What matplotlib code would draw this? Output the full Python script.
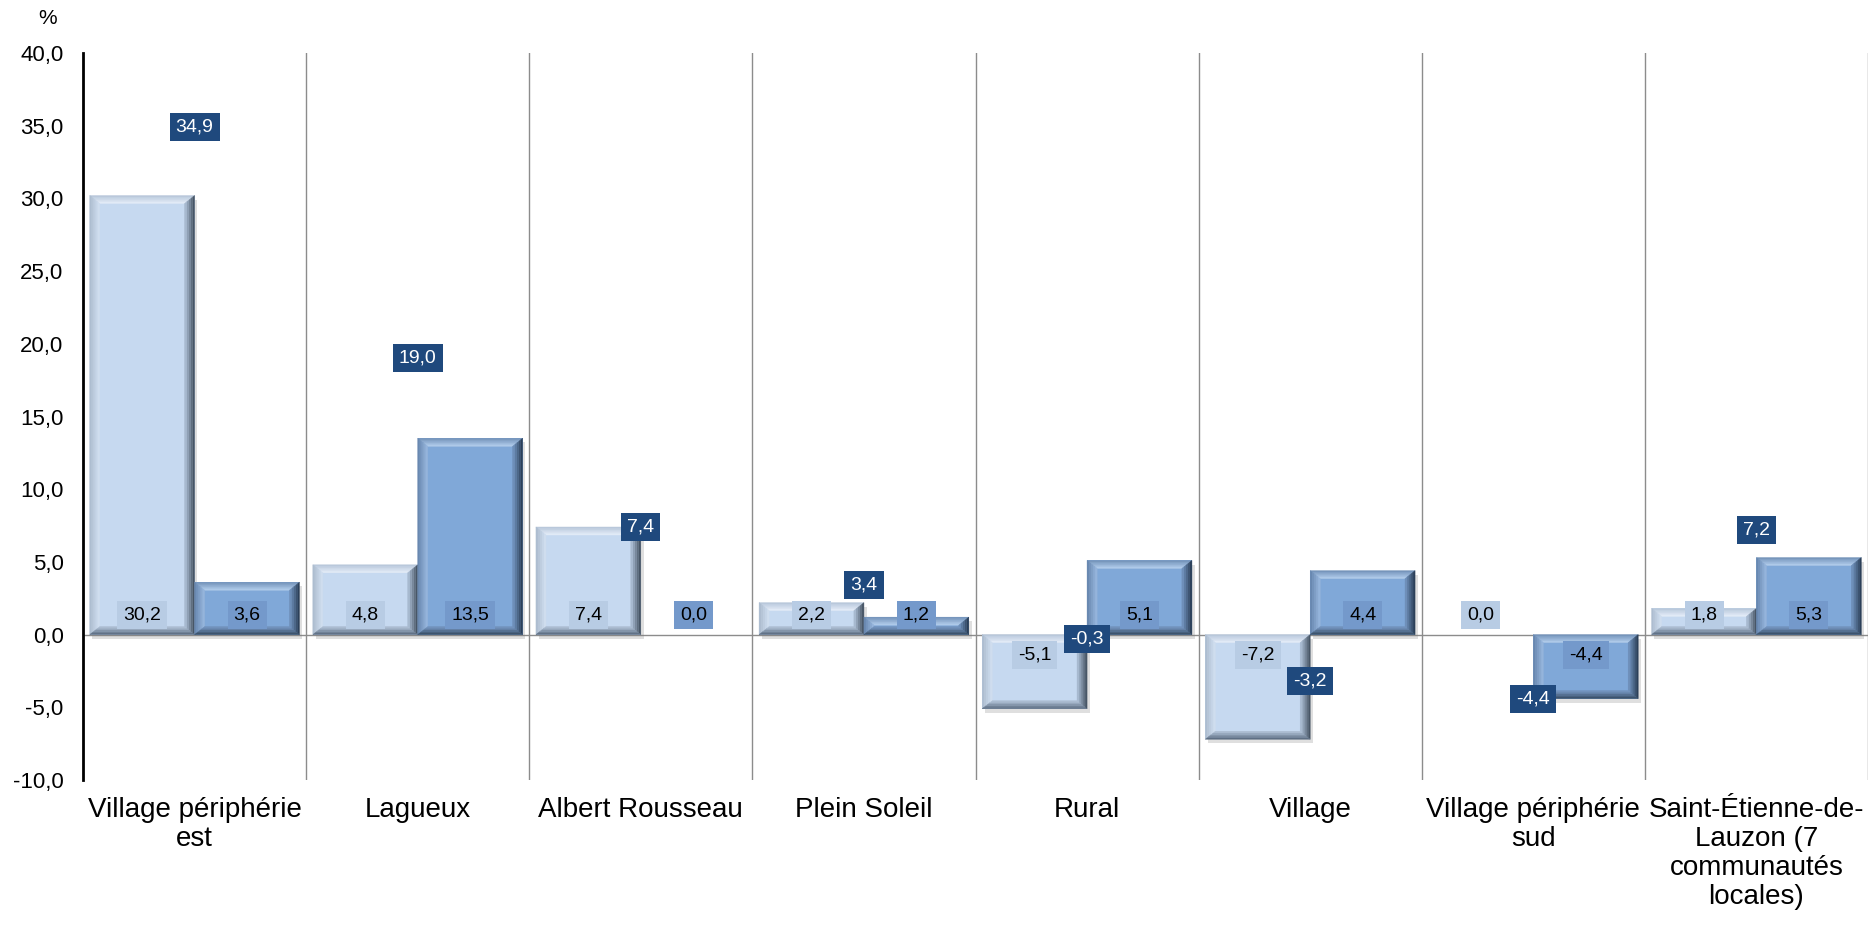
import matplotlib.pyplot as plt
from matplotlib.patches import Rectangle, Polygon
from matplotlib.colors import to_rgb
import matplotlib.patheffects as pe

categories = ["Village périphérie\nest", "Lagueux", "Albert Rousseau", "Plein Soleil",
              "Rural", "Village", "Village périphérie\nsud",
              "Saint-Étienne-de-\nLauzon (7\ncommunautés\nlocales)"]
serie1 = [30.2, 4.8, 7.4, 2.2, -5.1, -7.2, 0.0, 1.8]
serie2 = [3.6, 13.5, 0.0, 1.2, 5.1, 4.4, -4.4, 5.3]
serie3 = [34.9, 19.0, 7.4, 3.4, -0.3, -3.2, -4.4, 7.2]
yticks = [-10, -5, 0, 5, 10, 15, 20, 25, 30, 35, 40]

plt.rcParams['font.family'] = ['Liberation Sans', 'DejaVu Sans']

def fr(v):
    return f"{v:.1f}".replace(".", ",")

# bevel: (couleur exterieure, couleur interieure) pour chaque cote
style1 = dict(face="#c6d9f0", lab="#b8cce4",
              top=("#b4c4d8", "#e6eef9"), left=("#a9b9cc", "#d3e1f2"),
              right=("#3c4a59", "#b3c5dc"), bottom=("#55657a", "#b3c4da"))
style2 = dict(face="#80a8d8", lab="#7499cb",
              top=("#6f8fb5", "#b5cfee"), left=("#6483ab", "#9ab9e0"),
              right=("#24364d", "#7699c5"), bottom=("#34495f", "#7899c5"))

labels = []  # (texte, couleur de fond)

def mix(c1, c2, t):
    a, b = to_rgb(c1), to_rgb(c2)
    return tuple(a[i] + (b[i] - a[i]) * t for i in range(3))

def barre(ax, xc, w, h, st):
    x0, x1 = xc - w / 2, xc + w / 2
    y0, y1 = min(0, h), max(0, h)
    if h != 0:
        base = Rectangle((x0, y0), w, y1 - y0, facecolor=st["face"], edgecolor="none", zorder=3)
        base.set_path_effects([pe.SimplePatchShadow(offset=(2, -3), shadow_rgbFace="#808080", alpha=0.25),
                               pe.Normal()])
        ax.add_patch(base)
        bx = 0.045
        by = min(0.55, (y1 - y0) / 2)
        n = 5
        for k in range(n):
            f1, f2 = k / n, (k + 1) / n
            a = (x0 + f1 * bx, y0 + f1 * by, x1 - f1 * bx, y1 - f1 * by)
            b = (x0 + f2 * bx, y0 + f2 * by, x1 - f2 * bx, y1 - f2 * by)
            t = (k + 0.5) / n
            sides = {
                "top": [(a[0], a[3]), (a[2], a[3]), (b[2], b[3]), (b[0], b[3])],
                "left": [(a[0], a[1]), (a[0], a[3]), (b[0], b[3]), (b[0], b[1])],
                "right": [(a[2], a[1]), (a[2], a[3]), (b[2], b[3]), (b[2], b[1])],
                "bottom": [(a[0], a[1]), (a[2], a[1]), (b[2], b[1]), (b[0], b[1])],
            }
            for s, pts in sides.items():
                c = mix(st[s][0], st[s][1], t)
                ax.add_patch(Polygon(pts, closed=True, facecolor=c, edgecolor=c, lw=0.3, zorder=4))
    ypos = -1.4 if h < 0 else 1.35
    t = ax.text(xc, ypos, fr(h), ha="center", va="center", fontsize=14, color="black", zorder=7)
    labels.append((t, st["lab"]))

fig = plt.figure(figsize=(18.74, 9.27), dpi=100)
ax = fig.add_axes([0.0443, 0.1586, 0.9525, 0.7842])

w = 0.47
for i in range(len(categories)):
    barre(ax, i - 0.235, w, serie1[i], style1)
    barre(ax, i + 0.235, w, serie2[i], style2)
    t = ax.text(i, serie3[i], fr(serie3[i]), ha="center", va="center", fontsize=14,
                color="white", zorder=9)
    labels.append((t, "#1f497d"))

for k in range(1, len(categories) + 1):
    ax.axvline(k - 0.5, color="#8c8c8c", lw=1, zorder=1)
ax.axhline(0, color="#8c8c8c", lw=1, zorder=2)

ax.set_xlim(-0.5, len(categories) - 0.5)
ax.set_ylim(-10, 40)
ax.set_yticks(yticks)
ax.set_yticklabels([fr(v) for v in yticks], fontsize=16)
ax.set_xticks(range(len(categories)))
ax.set_xticklabels(categories, fontsize=20, linespacing=1.15)
ax.tick_params(axis="both", length=0)
ax.tick_params(axis="y", pad=14)
ax.tick_params(axis="x", pad=12)
for s in ["top", "right", "bottom"]:
    ax.spines[s].set_visible(False)
ax.spines["left"].set_linewidth(2)
ax.spines["left"].set_color("black")

fig.text(48 / 1874, 1 - 18 / 927, "%", fontsize=15, ha="center", va="center")

# boites des etiquettes: largeur = texte + marge, hauteur fixe
fig.canvas.draw()
inv = ax.transData.inverted()
r = fig.canvas.get_renderer()
for t, col in labels:
    bb = t.get_window_extent(r)
    cx, cy = (bb.x0 + bb.x1) / 2, (bb.y0 + bb.y1) / 2
    half_w = bb.width / 2 + 6
    (dx0, dy0), (dx1, dy1) = inv.transform([(cx - half_w, cy - 14), (cx + half_w, cy + 14)])
    ax.add_patch(Rectangle((dx0, dy0), dx1 - dx0, dy1 - dy0, facecolor=col, edgecolor="none",
                           zorder=t.get_zorder() - 1))

fig.savefig("out.png", dpi=100)
